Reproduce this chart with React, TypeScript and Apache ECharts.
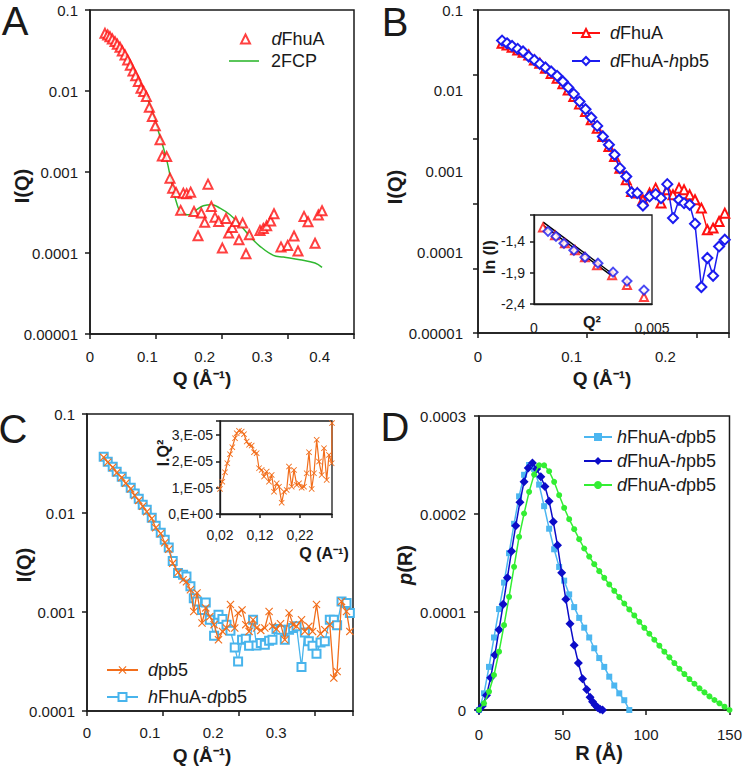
import React, { useEffect, useRef } from "react";
import * as echarts from "echarts";

// ---------- Panel A ----------
const qA = [0.0261,0.0308,0.0348,0.0389,0.0436,0.0476,0.0523,0.0563,0.0610,0.0656,0.0703,0.0749,0.0796,0.0842,0.0889,0.0935,0.0982,0.1034,0.1086,0.1138,0.1220,0.1260,0.1336,0.1394,0.1440,0.1499,0.1580,0.1626,0.1684,0.1754,0.1812,0.1882,0.1940,0.1998,0.2056,0.2114,0.2178,0.2242,0.2306,0.2370,0.2416,0.2480,0.2538,0.2596,0.2660,0.2718,0.2776,0.2962,0.3020,0.3078,0.3148,0.3206,0.3328,0.3444,0.3555,0.3624,0.3729,0.3799,0.3921,0.3979,0.4043];
const iA_dFhuA = [0.0515,0.0492,0.0469,0.0439,0.0407,0.0378,0.0347,0.0312,0.0279,0.0242,0.0208,0.0177,0.0154,0.0131,0.0108,0.00984,0.00853,0.00631,0.00484,0.00372,0.00250,0.00158,0.00155,0.000840,0.000632,0.000560,0.000336,0.000548,0.000538,0.000564,0.000326,0.000163,0.000311,0.000239,0.000708,0.000376,0.000277,0.000245,0.000115,0.000267,0.000176,0.000207,0.000245,0.000146,0.000234,0.0000980,0.000168,0.000190,0.000201,0.000217,0.000248,0.000305,0.000119,0.000124,0.000162,0.000106,0.000283,0.000243,0.000132,0.000294,0.000333];
const qA_fit = [0.0261,0.0523,0.0755,0.0987,0.1220,0.1336,0.1423,0.1510,0.1597,0.1742,0.1859,0.1975,0.2120,0.2265,0.2439,0.2614,0.2788,0.2962,0.3195,0.3369,0.3659,0.3921,0.4043];
const iA_2FCP = [0.0515,0.0347,0.0183,0.00853,0.00274,0.00141,0.000730,0.000413,0.000311,0.000297,0.000342,0.000383,0.000394,0.000358,0.000297,0.000223,0.000160,0.000121,0.0000935,0.0000892,0.0000826,0.0000751,0.0000665];

// ---------- Panel B ----------
const qB = [0.0257,0.0310,0.0364,0.0424,0.0481,0.0542,0.0602,0.0660,0.0720,0.0781,0.0845,0.0906,0.0963,0.1023,0.1084,0.1148,0.1209,0.1273,0.1333,0.1398,0.1458,0.1515,0.1583,0.1640,0.1701,0.1761,0.1832,0.1897,0.1954,0.2021,0.2082,0.2146,0.2200,0.2260,0.2317,0.2385,0.2449,0.2510,0.2574,0.2635];
const iB_dFhuA = [0.0387,0.0369,0.0345,0.0320,0.0299,0.0277,0.0240,0.0219,0.0190,0.0164,0.0143,0.0122,0.0102,0.00847,0.00687,0.00552,0.00436,0.00343,0.00271,0.00204,0.00153,0.00110,0.000788,0.000566,0.000540,0.000446,0.000540,0.000622,0.000406,0.000593,0.000514,0.000622,0.000593,0.000514,0.000446,0.000352,0.000190,0.000199,0.000240,0.000305];
const iB_dFhuA_hpb5 = [0.0418,0.0387,0.0359,0.0330,0.0306,0.0265,0.0240,0.0215,0.0194,0.0173,0.0153,0.0130,0.0110,0.00914,0.00735,0.00590,0.00466,0.00367,0.00271,0.00214,0.00161,0.00110,0.000867,0.000550,0.000540,0.000379,0.000491,0.000525,0.000468,0.000697,0.000265,0.000446,0.000406,0.000387,0.000225,0.0000371,0.0000848,0.0000512,0.000118,0.000143];
// inset B (Guinier)
const q2B_red = [0.000381,0.00089,0.00131,0.00174,0.00216,0.00267,0.00331,0.00394,0.00466];
const lnB_red = [-1.178,-1.305,-1.432,-1.543,-1.654,-1.781,-1.940,-2.098,-2.289];
const q2B_blue = [0.000593,0.000932,0.00127,0.00169,0.00216,0.00271,0.00335,0.00394,0.00466];
const lnB_blue = [-1.241,-1.321,-1.432,-1.543,-1.654,-1.749,-1.892,-2.035,-2.178];
const q2B_fit = [0.00039,0.00330];
const lnB_fit1 = [-1.094,-1.913];
const lnB_fit2 = [-1.146,-1.951];

// ---------- Panel C ----------
const qC = [0.0265,0.0329,0.0408,0.0471,0.0551,0.0614,0.0694,0.0757,0.0821,0.0884,0.0948,0.1027,0.1090,0.1170,0.1233,0.1297,0.1360,0.1444,0.1524,0.1578,0.1641,0.1694,0.1746,0.1825,0.1884,0.1948,0.2016,0.2086,0.2149,0.2213,0.2276,0.2344,0.2397,0.2460,0.2519,0.2571,0.2635,0.2689,0.2757,0.2821,0.2889,0.2943,0.3006,0.3070,0.3138,0.3206,0.3270,0.3324,0.3403,0.3456,0.3519,0.3578,0.3641,0.3705,0.3773,0.3852,0.3916,0.3968,0.4038,0.4117,0.4170];
const iC_dpb5 = [0.0365,0.0325,0.0290,0.0255,0.0228,0.0200,0.0176,0.0150,0.0134,0.0117,0.0103,0.0088,0.0071,0.0062,0.0050,0.0043,0.0031,0.00251,0.00212,0.00202,0.00168,0.00101,0.00156,0.000774,0.00110,0.000897,0.000745,0.000525,0.000637,0.000689,0.00119,0.000689,0.000977,0.00105,0.000745,0.000637,0.000836,0.000689,0.000652,0.000689,0.00101,0.000716,0.000673,0.000762,0.000525,0.000977,0.000745,0.000716,0.000836,0.000637,0.000716,0.000637,0.00119,0.000604,0.000662,0.000745,0.000215,0.000251,0.00128,0.00101,0.000637];
const iC_hFhuA_dpb5 = [0.0371,0.0330,0.0294,0.0261,0.0233,0.0207,0.0180,0.0157,0.0139,0.0121,0.0108,0.00897,0.00745,0.00633,0.00537,0.00447,0.00328,0.00248,0.00238,0.00229,0.00182,0.00138,0.00128,0.00105,0.00125,0.000836,0.000577,0.000940,0.000850,0.000745,0.000647,0.000439,0.000317,0.000525,0.000537,0.000457,0.000836,0.000460,0.000486,0.000468,0.000513,0.000525,0.000673,0.000662,0.000525,0.000662,0.000689,0.000716,0.000278,0.000622,0.000505,0.000457,0.000379,0.000493,0.000505,0.000836,0.000836,0.000733,0.00128,0.00123,0.000977];
// inset C (Kratky)
const qC_ins = [0.020,0.0258,0.0325,0.0383,0.0450,0.0508,0.0575,0.0617,0.0675,0.0742,0.0800,0.0867,0.0925,0.0992,0.1050,0.1117,0.1175,0.1242,0.1300,0.1367,0.1425,0.1492,0.1550,0.1617,0.1675,0.1742,0.1800,0.1867,0.1925,0.1992,0.2050,0.2117,0.2175,0.2242,0.2300,0.2367,0.2425,0.2492,0.2550,0.2617,0.2675,0.2742,0.2800,0.2867,0.2925,0.2992,0.3000];
const iq2C_ins = [0.951e-5,1.228e-5,1.585e-5,1.927e-5,2.269e-5,2.535e-5,2.877e-5,3.067e-5,3.156e-5,3.130e-5,3.029e-5,2.750e-5,2.624e-5,2.598e-5,2.345e-5,2.307e-5,1.737e-5,1.673e-5,1.420e-5,1.610e-5,1.228e-5,1.483e-5,0.849e-5,1.166e-5,1.039e-5,0.430e-5,0.849e-5,0.913e-5,1.800e-5,1.039e-5,1.673e-5,1.103e-5,1.166e-5,1.001e-5,1.039e-5,1.546e-5,2.345e-5,0.951e-5,1.546e-5,2.814e-5,1.990e-5,1.483e-5,2.497e-5,1.293e-5,2.243e-5,1.927e-5,3.45e-5];

// ---------- Panel D ----------
const rD_h_d = [0,3,6,9,12,15,18,21,24,27,30,33,36,39,42,45,48,51,54,57,60,63,66,69,72,75,78,81,84,87,90];
const pD_hFhuA_dpb5 = [0,0.17e-4,0.44e-4,0.74e-4,1.03e-4,1.30e-4,1.60e-4,1.90e-4,2.18e-4,2.40e-4,2.50e-4,2.46e-4,2.30e-4,2.08e-4,1.85e-4,1.64e-4,1.46e-4,1.32e-4,1.18e-4,1.05e-4,0.94e-4,0.84e-4,0.74e-4,0.63e-4,0.53e-4,0.44e-4,0.34e-4,0.25e-4,0.17e-4,0.10e-4,0];
const rD_d_h = [0,2,4.5,7,9.5,12,14.5,17,19.5,22,24.5,27,29.5,32,34.5,37,39.5,42,44.5,47,49.5,52,54.5,57,59.5,62,64.5,66.5,68,69.5,71,72.5,74];
const pD_dFhuA_hpb5 = [0,0.04e-4,0.15e-4,0.33e-4,0.56e-4,0.82e-4,1.08e-4,1.35e-4,1.62e-4,1.88e-4,2.12e-4,2.33e-4,2.47e-4,2.52e-4,2.46e-4,2.38e-4,2.28e-4,2.13e-4,1.92e-4,1.68e-4,1.40e-4,1.13e-4,0.88e-4,0.66e-4,0.48e-4,0.32e-4,0.21e-4,0.13e-4,0.085e-4,0.05e-4,0.025e-4,0.008e-4,0];
const rD_d_d = [0,3,6,9,12,15,18,21,24,27,30,33,36,39,42,45,48,51,54,57,60,63,66,69,72,75,78,81,84,87,90,93,96,99,102,105,108,111,114,117,120,123,126,129,132,135,138,141,144,147,150];
const pD_dFhuA_dpb5 = [0,0.068e-4,0.187e-4,0.357e-4,0.595e-4,0.866e-4,1.155e-4,1.461e-4,1.767e-4,2.005e-4,2.226e-4,2.402e-4,2.497e-4,2.497e-4,2.436e-4,2.328e-4,2.192e-4,2.063e-4,1.947e-4,1.845e-4,1.743e-4,1.648e-4,1.566e-4,1.488e-4,1.417e-4,1.349e-4,1.281e-4,1.216e-4,1.152e-4,1.087e-4,1.026e-4,0.965e-4,0.900e-4,0.839e-4,0.778e-4,0.717e-4,0.656e-4,0.595e-4,0.537e-4,0.479e-4,0.421e-4,0.367e-4,0.316e-4,0.268e-4,0.221e-4,0.180e-4,0.139e-4,0.102e-4,0.068e-4,0.034e-4,0];

// ---------- Tick labels ----------
const logTickVals = [0.00001, 0.0001, 0.001, 0.01, 0.1];
const logTickLabels = ["0.00001", "0.0001", "0.001", "0.01", "0.1"];
const xTickValsA = [0, 0.1, 0.2, 0.3, 0.4];
const xTickLabelsA = ["0", "0.1", "0.2", "0.3", "0.4"];
const xTickValsB = [0, 0.1, 0.2];
const xTickLabelsB = ["0", "0.1", "0.2"];
const xTickValsC = [0, 0.1, 0.2, 0.3];
const xTickLabelsC = ["0", "0.1", "0.2", "0.3"];
const xTickValsD = [0, 50, 100, 150];
const xTickLabelsD = ["0", "50", "100", "150"];
const yTickValsD = [0, 0.0001, 0.0002, 0.0003];
const yTickLabelsD = ["0", "0.0001", "0.0002", "0.0003"];
const insBXVals = [0, 0.005];
const insBXLabels = ["0", "0,005"];
const insBYVals = [-2.4, -1.9, -1.4];
const insBYLabels = ["-2,4", "-1,9", "-1,4"];
const insCXVals = [0.02, 0.12, 0.22];
const insCXLabels = ["0,02", "0,12", "0,22"];
const insCYVals = [0, 1e-5, 2e-5, 3e-5];
const insCYLabels = ["0,E+00", "1,E-05", "2,E-05", "3,E-05"];

const FONT = "'Liberation Sans', Arial, sans-serif";
const INK = "#1a1a1a";
const RED = "#ff1010";
const BLUE = "#1c1cf0";
const GREEN_A = "#30b830";
const ORANGE = "#f26e1c";
const SKY = "#48b4ec";
const D_LIGHT = "#4cb6f0";
const D_DARK = "#0c0cc8";
const D_GREEN = "#33ee33";
const XSYM = "path://M1,0L5,4L9,0L10,1L6,5L10,9L9,10L5,6L1,10L0,9L4,5L0,1Z";

const zip = (xs: number[], ys: number[]) => xs.map((x, i) => [x, ys[i]]);
const fmt = (vals: number[], labels: string[]) => (v: number) => {
  for (let i = 0; i < vals.length; i++) {
    const x = vals[i];
    if (Math.abs(x - v) <= 1e-6 * (Math.abs(x) + Math.abs(v)) + 1e-13) return labels[i];
  }
  return "";
};

const axLine = { lineStyle: { color: INK, width: 1.5 } };
const lbl = (size: number, margin: number, formatter: any) => ({
  color: INK, fontSize: size, fontFamily: FONT, margin, formatter,
});
const tick = (show: boolean, len = 5) => ({ show, length: len, lineStyle: { color: INK, width: 1.5 } });
const noSplit = { show: false };

const tickAxis = (gridIndex: number, min: number, max: number, interval: number, position: string) => ({
  gridIndex, type: "value", min, max, interval, position,
  axisLine: { show: false }, axisLabel: { show: false }, splitLine: noSplit, axisTick: tick(true),
});

const legendNames: Record<string, string> = {
  "A dFhuA": "{i|d}FhuA",
  "A 2FCP": "2FCP",
  "B dFhuA": "{i|d}FhuA",
  "B dFhuA-hpb5": "{i|d}FhuA-{i|h}pb5",
  "C dpb5": "{i|d}pb5",
  "C hFhuA-dpb5": "{i|h}FhuA-{i|d}pb5",
  "D hFhuA-dpb5": "{i|h}FhuA-{i|d}pb5",
  "D dFhuA-hpb5": "{i|d}FhuA-{i|h}pb5",
  "D dFhuA-dpb5": "{i|d}FhuA-{i|d}pb5",
};

const legend = (names: any[], left: number, top: number, itemWidth: number, gap: number, pad: number, itemHeight = 10) => ({
  data: names, left, top, orient: "vertical", padding: 0, itemGap: gap, itemWidth, itemHeight,
  selectedMode: false,
  formatter: (n: string) => legendNames[n] || n,
  textStyle: {
    color: INK, fontSize: 18, fontFamily: FONT, lineHeight: 20, padding: [0, 0, 0, pad],
    rich: { i: { fontStyle: "italic", fontSize: 18, fontFamily: FONT, color: INK } },
  },
});

const txt = (x: number, y: number, text: string, font: string, rot = 0, rich?: any) => ({
  type: "text", x, y, rotation: rot, z: 100,
  style: { text, font, fill: INK, align: "center", verticalAlign: "middle", rich },
});

const boldRich = (size: number) => ({
  i: { fontStyle: "italic", fontWeight: "bold", fontSize: size, fontFamily: FONT, fill: INK },
  b: { fontWeight: "bold", fontSize: size, fontFamily: FONT, fill: INK },
});

const option: any = {
  animation: false,
  backgroundColor: "#fff",
  grid: [
    { left: 90, top: 10, width: 264, height: 324, show: true, borderColor: INK, borderWidth: 1.5 },
    { left: 478, top: 10, width: 251, height: 323, show: true, borderColor: INK, borderWidth: 1.5 },
    { left: 87, top: 414, width: 266, height: 297, show: true, borderColor: INK, borderWidth: 1.5 },
    { left: 479, top: 416, width: 252, height: 294, show: true, borderColor: INK, borderWidth: 1.5 },
    { left: 534, top: 215, width: 118, height: 89, show: true, borderColor: INK, borderWidth: 1.3, backgroundColor: "#fff" },
    { left: 220, top: 421, width: 112, height: 93, show: true, borderColor: INK, borderWidth: 1.3, backgroundColor: "#fff" },
  ],
  xAxis: [
    { gridIndex: 0, type: "value", min: 0, max: 0.46, interval: 0.1, position: "bottom", axisLine: axLine, axisTick: tick(false), splitLine: noSplit, axisLabel: lbl(15, 15, fmt(xTickValsA, xTickLabelsA)) },
    tickAxis(0, 0, 0.46, 0.115, "bottom"),
    { gridIndex: 1, type: "value", min: 0, max: 0.268, interval: 0.1, position: "bottom", axisLine: axLine, axisTick: tick(false), splitLine: noSplit, axisLabel: lbl(15, 16, fmt(xTickValsB, xTickLabelsB)) },
    tickAxis(1, 0, 0.268, 0.1166, "bottom"),
    { gridIndex: 2, type: "value", min: 0, max: 0.422, interval: 0.1, position: "bottom", axisLine: axLine, axisTick: tick(false), splitLine: noSplit, axisLabel: lbl(15, 14, fmt(xTickValsC, xTickLabelsC)) },
    tickAxis(2, 0, 0.422, 0.1204, "bottom"),
    { gridIndex: 3, type: "value", min: 0, max: 150, interval: 50, position: "bottom", axisLine: axLine, axisTick: tick(true), splitLine: noSplit, axisLabel: lbl(15, 17, fmt(xTickValsD, xTickLabelsD)) },
    { gridIndex: 4, type: "value", min: 0, max: 0.005, interval: 0.005, position: "bottom", axisLine: { lineStyle: { color: INK, width: 1.3 } }, axisTick: tick(false), splitLine: noSplit, axisLabel: lbl(14, 17, fmt(insBXVals, insBXLabels)) },
    { gridIndex: 5, type: "value", min: 0.02, max: 0.30, interval: 0.1, position: "bottom", axisLine: { lineStyle: { color: INK, width: 1.3 } }, axisTick: tick(true, 4), splitLine: noSplit, axisLabel: lbl(14, 14, fmt(insCXVals, insCXLabels)) },
  ],
  yAxis: [
    { gridIndex: 0, type: "log", logBase: 10, min: 0.00001, max: 0.1, position: "left", axisLine: axLine, axisTick: tick(true), splitLine: noSplit, minorTick: { show: false }, axisLabel: lbl(15, 12, fmt(logTickVals, logTickLabels)) },
    { gridIndex: 1, type: "log", logBase: 10, min: 0.00001, max: 0.1, position: "left", axisLine: axLine, axisTick: tick(false), splitLine: noSplit, axisLabel: lbl(15, 15, fmt(logTickVals, logTickLabels)) },
    tickAxis(1, 0, 5, 1, "left"),
    { gridIndex: 2, type: "log", logBase: 10, min: 0.0001, max: 0.1, position: "left", axisLine: axLine, axisTick: tick(true), splitLine: noSplit, axisLabel: lbl(15, 12, fmt(logTickVals, logTickLabels)) },
    { gridIndex: 3, type: "value", min: 0, max: 0.0003, interval: 0.0001, position: "left", axisLine: axLine, axisTick: tick(true), splitLine: noSplit, axisLabel: lbl(15, 13, fmt(yTickValsD, yTickLabelsD)) },
    { gridIndex: 4, type: "value", min: -2.4, max: -0.98, interval: 0.5, position: "left", axisLine: { lineStyle: { color: INK, width: 1.3 } }, axisTick: tick(true, 4), splitLine: noSplit, axisLabel: lbl(14, 9, fmt(insBYVals, insBYLabels)) },
    { gridIndex: 5, type: "value", min: 0, max: 3.53e-5, interval: 1e-5, position: "left", axisLine: { lineStyle: { color: INK, width: 1.3 } }, axisTick: tick(true, 4), splitLine: noSplit, axisLabel: lbl(14, 7, fmt(insCYVals, insCYLabels)) },
  ],
  legend: [
    legend(["A dFhuA"], 240, 29, 9, 2, 16.5, 9),
    legend([{ name: "A 2FCP", icon: "rect" }], 229, 51, 30, 2, 7, 1.6),
    legend(["B dFhuA", "B dFhuA-hpb5"], 571, 23, 28, 8, 5),
    legend(["C dpb5", "C hFhuA-dpb5"], 106, 660, 31, 7, 5),
    legend(["D hFhuA-dpb5", "D dFhuA-hpb5", "D dFhuA-dpb5"], 583, 427, 28, 4, 0),
  ],
  series: [
    // A
    { name: "A 2FCP", type: "line", xAxisIndex: 0, yAxisIndex: 0, data: zip(qA_fit, iA_2FCP), smooth: 0.4, symbol: "none", lineStyle: { color: GREEN_A, width: 1.5 }, itemStyle: { color: GREEN_A }, z: 2 },
    { name: "A dFhuA", type: "scatter", xAxisIndex: 0, yAxisIndex: 0, data: zip(qA, iA_dFhuA), symbol: "emptyTriangle", symbolSize: 9, itemStyle: { color: RED, borderWidth: 1.3 }, z: 3 },
    // B
    { name: "B dFhuA", type: "line", xAxisIndex: 2, yAxisIndex: 1, data: zip(qB, iB_dFhuA), symbol: "emptyTriangle", symbolSize: 9, showAllSymbol: true, lineStyle: { color: RED, width: 1.5 }, itemStyle: { color: RED, borderWidth: 1.3 }, z: 3 },
    { name: "B dFhuA-hpb5", type: "line", xAxisIndex: 2, yAxisIndex: 1, data: zip(qB, iB_dFhuA_hpb5), symbol: "emptyDiamond", symbolSize: 10, showAllSymbol: true, lineStyle: { color: BLUE, width: 1.5 }, itemStyle: { color: BLUE, borderWidth: 1.3 }, z: 4 },
    // inset B
    { name: "insB fit1", type: "line", xAxisIndex: 7, yAxisIndex: 5, data: zip(q2B_fit, lnB_fit1), symbol: "none", lineStyle: { color: "#000", width: 1.4 }, z: 5 },
    { name: "insB fit2", type: "line", xAxisIndex: 7, yAxisIndex: 5, data: zip(q2B_fit, lnB_fit2), symbol: "none", lineStyle: { color: "#000", width: 1.4 }, z: 5 },
    { name: "insB red", type: "scatter", xAxisIndex: 7, yAxisIndex: 5, data: zip(q2B_red, lnB_red), symbol: "emptyTriangle", symbolSize: 8, itemStyle: { color: RED, borderWidth: 1.3 }, z: 6 },
    { name: "insB blue", type: "scatter", xAxisIndex: 7, yAxisIndex: 5, data: zip(q2B_blue, lnB_blue), symbol: "emptyDiamond", symbolSize: 9, itemStyle: { color: BLUE, borderWidth: 1.3 }, z: 7 },
    // C
    { name: "C hFhuA-dpb5", type: "line", xAxisIndex: 4, yAxisIndex: 3, data: zip(qC, iC_hFhuA_dpb5), symbol: "emptyRect", symbolSize: 8, showAllSymbol: true, lineStyle: { color: SKY, width: 1.3 }, itemStyle: { color: SKY, borderWidth: 1.3 }, z: 3 },
    { name: "C dpb5", type: "line", xAxisIndex: 4, yAxisIndex: 3, data: zip(qC, iC_dpb5), symbol: XSYM, symbolSize: 8, showAllSymbol: true, lineStyle: { color: ORANGE, width: 1.3 }, itemStyle: { color: ORANGE }, z: 4 },
    // inset C
    { name: "insC", type: "line", xAxisIndex: 8, yAxisIndex: 6, data: zip(qC_ins, iq2C_ins), symbol: XSYM, symbolSize: 6, showAllSymbol: true, lineStyle: { color: ORANGE, width: 1.2 }, itemStyle: { color: ORANGE }, z: 6 },
    // D
    { name: "D hFhuA-dpb5", type: "line", xAxisIndex: 6, yAxisIndex: 4, data: zip(rD_h_d, pD_hFhuA_dpb5), symbol: "rect", symbolSize: 6, showAllSymbol: true, lineStyle: { color: D_LIGHT, width: 1.5 }, itemStyle: { color: D_LIGHT }, z: 3 },
    { name: "D dFhuA-hpb5", type: "line", xAxisIndex: 6, yAxisIndex: 4, data: zip(rD_d_h, pD_dFhuA_hpb5), symbol: "diamond", symbolSize: 9, showAllSymbol: true, lineStyle: { color: D_DARK, width: 1.5 }, itemStyle: { color: D_DARK }, z: 4 },
    { name: "D dFhuA-dpb5", type: "line", xAxisIndex: 6, yAxisIndex: 4, data: zip(rD_d_d, pD_dFhuA_dpb5), symbol: "circle", symbolSize: 6, showAllSymbol: true, lineStyle: { color: D_GREEN, width: 1.5 }, itemStyle: { color: D_GREEN }, z: 5 },
  ],
  graphic: {
    elements: [
      txt(15, 21, "A", `40px ${FONT}`),
      txt(395, 22, "B", `40px ${FONT}`),
      txt(13, 429, "C", `40px ${FONT}`),
      txt(395, 427, "D", `40px ${FONT}`),
      txt(22, 186, "I(Q)", `bold 20px ${FONT}`, Math.PI / 2),
      txt(202, 378, "Q (Å⁻¹)", `bold 19px ${FONT}`),
      txt(395, 187, "I(Q)", `bold 20px ${FONT}`, Math.PI / 2),
      txt(602, 378, "Q (Å⁻¹)", `bold 19px ${FONT}`),
      txt(24, 565, "I(Q)", `bold 20px ${FONT}`, Math.PI / 2),
      txt(202, 755, "Q (Å⁻¹)", `bold 19px ${FONT}`),
      txt(405, 565, "{i|p}{b|(R)}", `bold 20px ${FONT}`, Math.PI / 2, boldRich(20)),
      txt(599, 753, "R (Å)", `bold 20px ${FONT}`),
      txt(489, 257, "ln (I)", `bold 16px ${FONT}`, Math.PI / 2),
      txt(592, 322, "Q²", `bold 16px ${FONT}`),
      txt(163, 453, "I.Q²", `bold 16px ${FONT}`, Math.PI / 2),
      txt(324, 553, "Q (A⁻¹)", `bold 16px ${FONT}`),
    ],
  },
};

export default function App() {
  const ref = useRef<HTMLDivElement>(null);
  useEffect(() => {
    document.body.style.margin = "0";
    const chart = echarts.init(ref.current!, null, { renderer: "svg" });
    chart.setOption(option);
    return () => chart.dispose();
  }, []);
  return <div ref={ref} style={{ width: 745, height: 770 }} />;
}
